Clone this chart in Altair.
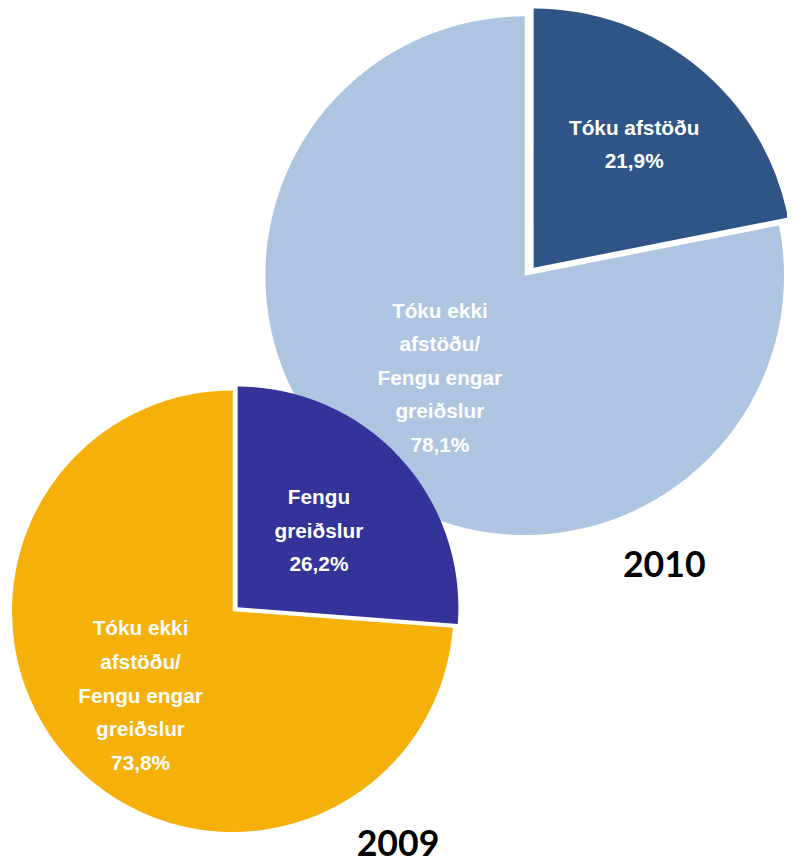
import math
import altair as alt
import pandas as pd

# ---- data ----
year_2010 = "2010"
labels_2010 = ["Tóku afstöðu\n21,9%", "Tóku ekki\nafstöðu/\nFengu engar\ngreiðslur\n78,1%"]
values_2010 = [21.9, 78.1]
colors_2010 = ["#2E5586", "#AEC5E2"]

year_2009 = "2009"
labels_2009 = ["Fengu\ngreiðslur\n26,2%", "Tóku ekki\nafstöðu/\nFengu engar\ngreiðslur\n73,8%"]
values_2009 = [26.2, 73.8]
colors_2009 = ["#33339A", "#F5B00A"]

W, H = 787, 858
TH = alt.Scale(domain=[0, 100], range=[0, 2 * math.pi])
FONT = "Liberation Sans, Arial, sans-serif"
LH = 34


def slice_df(labels, values, i):
    start = sum(values[:i])
    end = start + values[i]
    return pd.DataFrame({"label": [labels[i]], "start": [start], "end": [end],
                         "mid": [(start + end) / 2]})


def pie_layers(labels, values, colors, cx, cy, r, offsets, label_r):
    arcs, texts = [], []
    for i in range(len(values)):
        df = slice_df(labels, values, i)
        dx, dy = offsets[i]
        nlines = labels[i].count("\n") + 1
        arcs.append(
            alt.Chart(df).mark_arc(radius=r, color=colors[i], xOffset=dx, yOffset=dy)
            .encode(x=alt.value(cx), y=alt.value(cy),
                    theta=alt.Theta("start:Q", scale=TH, stack=None),
                    theta2="end:Q")
        )
        texts.append(
            alt.Chart(df).mark_text(radius=label_r[i], color="white", font=FONT,
                                    fontSize=21, fontWeight="bold", lineBreak="\n",
                                    lineHeight=LH, align="center", baseline="middle",
                                    xOffset=dx, yOffset=dy - (nlines - 1) * LH / 2)
            .encode(x=alt.value(cx), y=alt.value(cy),
                    theta=alt.Theta("mid:Q", scale=TH, stack=None),
                    text="label:N")
        )
    return arcs, texts


a10, t10 = pie_layers(labels_2010, values_2010, colors_2010, 522, 266, 262,
                      [(9, -8), (0, 0)], [160, 135])
a09, t09 = pie_layers(labels_2009, values_2009, colors_2009, 227, 605, 223,
                      [(5, -4), (0, 0)], [112, 127])

year_df = pd.DataFrame({"year": [year_2010, year_2009]})
y10 = alt.Chart(year_df).transform_filter(alt.datum.year == year_2010).mark_text(
    font="Lato", fontSize=36, fontWeight="bold", color="black", align="center",
    baseline="alphabetic").encode(x=alt.value(663), y=alt.value(570), text="year:N")
y09 = alt.Chart(year_df).transform_filter(alt.datum.year == year_2009).mark_text(
    font="Lato", fontSize=36, fontWeight="bold", color="black", align="center",
    baseline="alphabetic").encode(x=alt.value(394), y=alt.value(852), text="year:N")

chart = alt.layer(*a10, *t10, *a09, *t09, y10, y09).properties(
    width=W, height=H, autosize=alt.AutoSizeParams(type="none"), padding=0
).configure_view(stroke=None)

chart.save("out.html", embed_options={"renderer": "svg", "actions": False})
